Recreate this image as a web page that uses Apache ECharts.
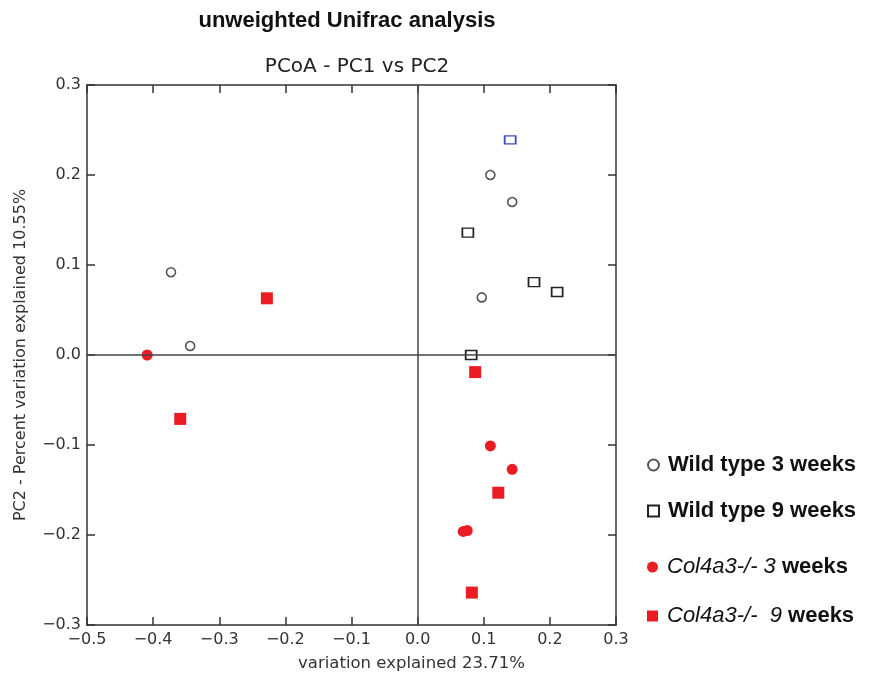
<!DOCTYPE html>
<html><head><meta charset="utf-8">
<script src="https://cdn.jsdelivr.net/npm/echarts@6/dist/echarts.min.js"></script>
<style>html,body{margin:0;padding:0;background:#fff}#c{width:876px;height:677px}</style>
</head><body><div id="c"></div>
<script>
const xTicks = [-0.5,-0.4,-0.3,-0.2,-0.1,0.0,0.1,0.2,0.3];
const yTicks = [-0.3,-0.2,-0.1,0.0,0.1,0.2,0.3];
const seriesNames = ['Wild type 3 weeks','Wild type 9 weeks','Col4a3-/- 3 weeks','Col4a3-/-  9 weeks'];
const wt3 = [[-0.373,0.092],[-0.344,0.010],[0.110,0.200],[0.143,0.170],[0.097,0.064]];
const wt9 = [[0.076,0.136],[0.176,0.081],[0.211,0.070],[0.081,0.000]];
const wt9Highlight = [[0.140,0.239]];
const ko3 = [[-0.409,0.000],[0.110,-0.101],[0.143,-0.127],[0.069,-0.196],[0.075,-0.195]];
const ko9 = [[-0.228,0.063],[-0.359,-0.071],[0.087,-0.019],[0.122,-0.153],[0.082,-0.264]];

const fmt = v => (v < 0 ? '\u2212' : '') + Math.abs(v).toFixed(1);
const axisLine = {show:true, onZero:false, lineStyle:{color:'#333', width:1.5}};
const tick = {show:true, inside:true, length:8, lineStyle:{color:'#333', width:1.5}};
const labelFont = {fontFamily:'DejaVu Sans', fontSize:16, color:'#333'};

const chart = echarts.init(document.getElementById('c'), null, {renderer:'canvas'});
const legendRows = [462, 508, 564, 613];
const legendFormatter = name => {
  if (name.indexOf('Col4a3') === 0) {
    const parts = name.split(' weeks')[0];
    return '{i|' + parts + '} {b|weeks}';
  }
  return '{b|' + name + '}';
};
const legendRich = {
  i:{fontFamily:'Liberation Sans', fontSize:22, fontStyle:'italic', fontWeight:'normal', color:'#111'},
  b:{fontFamily:'Liberation Sans', fontSize:22, fontWeight:'bold', color:'#111'}
};
chart.setOption({
  animation:false,
  backgroundColor:'#fff',
  title:[
    {text:'unweighted Unifrac analysis', left:342, top:5, textAlign:'center',
     textStyle:{fontFamily:'Liberation Sans', fontSize:22, fontWeight:'bold', color:'#111'}},
    {text:'PCoA - PC1 vs PC2', left:352, top:52, textAlign:'center',
     textStyle:{fontFamily:'DejaVu Sans', fontSize:20, fontWeight:'normal', color:'#222'}}
  ],
  legend: seriesNames.map((n,i)=>({
    data:[n], orient:'vertical', left:642, top:legendRows[i]-13,
    itemWidth:11, itemHeight:11, itemGap:6,
    formatter:legendFormatter,
    textStyle:{rich:legendRich, fontFamily:'Liberation Sans', fontSize:22, padding:[0,0,0,4]},
    selectedMode:false
  })),
  grid:{left:87, right:260, top:85, bottom:50},
  xAxis:[
    {type:'value', min:-0.5, max:0.3, interval:0.1, position:'bottom',
     axisLine:axisLine, axisTick:tick, splitLine:{show:false},
     axisLabel:Object.assign({formatter:fmt, margin:7}, labelFont),
     name:'variation explained 23.71%', nameLocation:'middle', nameGap:30,
     nameTextStyle:{fontFamily:'DejaVu Sans', fontSize:16.5, color:'#333', padding:[0,0,0,120]}},
    {type:'value', min:-0.5, max:0.3, interval:0.1, position:'top',
     axisLine:axisLine, axisTick:tick, splitLine:{show:false}, axisLabel:{show:false}}
  ],
  yAxis:[
    {type:'value', min:-0.3, max:0.3, interval:0.1, position:'left',
     axisLine:axisLine, axisTick:tick, splitLine:{show:false},
     axisLabel:Object.assign({formatter:fmt, margin:6}, labelFont),
     name:'PC2 - Percent variation explained 10.55%', nameLocation:'middle', nameGap:58, nameRotate:90,
     nameTextStyle:{fontFamily:'DejaVu Sans', fontSize:16, color:'#333'}},
    {type:'value', min:-0.3, max:0.3, interval:0.1, position:'right',
     axisLine:axisLine, axisTick:tick, splitLine:{show:false}, axisLabel:{show:false}}
  ],
  series:[
    {name:seriesNames[0], type:'scatter', data:wt3, symbol:'circle', symbolSize:9,
     itemStyle:{color:'#fff', borderColor:'#555', borderWidth:1.6, opacity:1},
     markLine:{silent:true, symbol:'none', label:{show:false},
       lineStyle:{color:'#444', width:1.5, type:'solid'},
       data:[{xAxis:0},{yAxis:0}]}, z:3},
    {name:seriesNames[1], type:'scatter', data:wt9, symbol:'rect', symbolSize:[11,9],
     itemStyle:{color:'#fff', borderColor:'#222', borderWidth:1.6, opacity:1}, z:3},
    {name:seriesNames[2], type:'scatter', data:ko3, symbol:'circle', symbolSize:11,
     itemStyle:{color:'#ec1c24', opacity:1}, z:3},
    {name:seriesNames[3], type:'scatter', data:ko9, symbol:'rect', symbolSize:12,
     itemStyle:{color:'#ec1c24', opacity:1}, z:3},
    {name:'highlight', type:'scatter', data:wt9Highlight, symbol:'rect', symbolSize:[11,8],
     itemStyle:{color:'#fff', borderColor:'#3c50b4', borderWidth:1.6, opacity:1}, z:3}
  ]
});
</script></body></html>
